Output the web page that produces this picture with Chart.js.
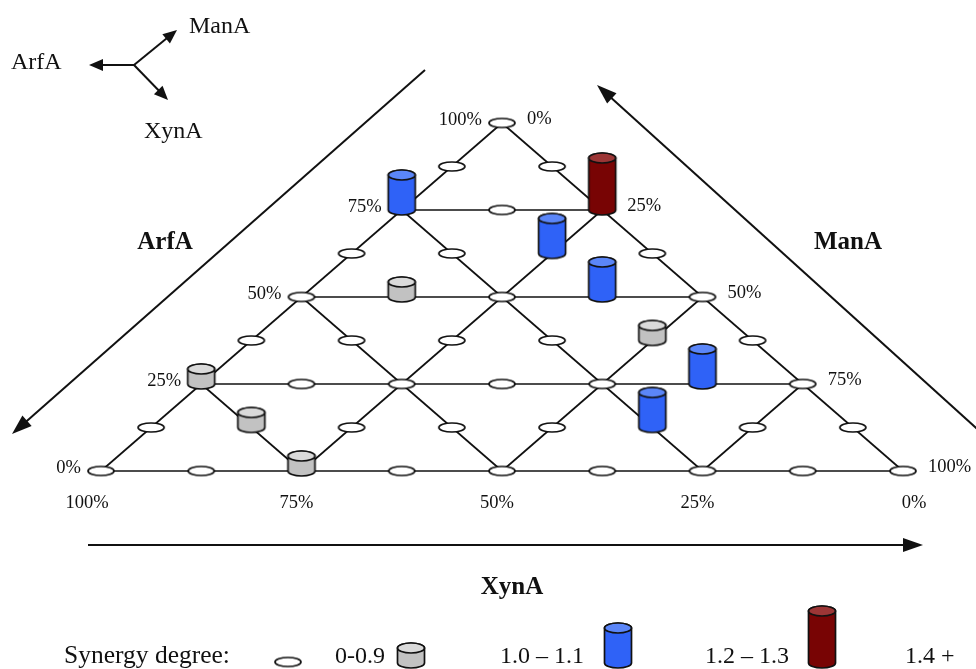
<!DOCTYPE html>
<html>
<head>
<meta charset="utf-8">
<script src="https://cdn.jsdelivr.net/npm/chart.js@4.4.0/dist/chart.umd.min.js"></script>
<style>
  html, body { margin: 0; padding: 0; background: #fff; }
</style>
</head>
<body>
<canvas id="myChart" width="976" height="669"></canvas>
<script>
// mixture design points, one row of the triangle per line (ArfA %, ManA %; XynA = rest)
const arfA = [
  0, 0, 0, 0, 0, 0, 0, 0, 0,
  12.5, 12.5, 12.5, 12.5, 12.5, 12.5, 12.5, 12.5,
  25, 25, 25, 25, 25, 25, 25,
  37.5, 37.5, 37.5, 37.5, 37.5, 37.5,
  50, 50, 50, 50, 50,
  62.5, 62.5, 62.5, 62.5,
  75, 75, 75,
  87.5, 87.5,
  100
];
const manA = [
  0, 12.5, 25, 37.5, 50, 62.5, 75, 87.5, 100,
  0, 12.5, 25, 37.5, 50, 62.5, 75, 87.5,
  0, 12.5, 25, 37.5, 50, 62.5, 75,
  0, 12.5, 25, 37.5, 50, 62.5,
  0, 12.5, 25, 37.5, 50,
  0, 12.5, 25, 37.5,
  0, 12.5, 25,
  0, 12.5,
  0
];
// synergy class: 0 = 0-0.9, 1 = 1.0-1.1, 2 = 1.2-1.3, 3 = 1.4+
const synergy = [
  0, 0, 1, 0, 0, 0, 0, 0, 0,
  0, 1, 0, 0, 0, 2, 0, 0,
  1, 0, 0, 0, 0, 2, 0,
  0, 0, 0, 0, 1, 0,
  0, 1, 0, 2, 0,
  0, 0, 2, 0,
  2, 0, 3,
  0, 0,
  0
];
const synergyLabels = ['0-0.9', '1.0 \u2013 1.1', '1.2 \u2013 1.3', '1.4 +'];
const gridLevels = [0, 25, 50, 75];
const tickLabels = ['0%', '25%', '50%', '75%', '100%'];

const serif = '"Liberation Serif", "Times New Roman", serif';

// ternary (ArfA, ManA) -> plane x/y
const tern = (a, m) => ({ x: m + a / 2, y: a });

function makeOval(rx, ry) {
  const c = document.createElement('canvas');
  c.width = 2 * rx + 4; c.height = 2 * ry + 4;
  const g = c.getContext('2d');
  g.beginPath();
  g.ellipse(c.width / 2, c.height / 2, rx, ry, 0, 0, Math.PI * 2);
  g.fillStyle = '#fff'; g.fill();
  g.lineWidth = 1.7; g.strokeStyle = '#111'; g.stroke();
  return c;
}

// cylinder with its bottom cap centred on the canvas centre
function makeCyl(h, body, top) {
  const rx = 13.5, ry = 5;
  const c = document.createElement('canvas');
  c.width = 32; c.height = 2 * (h - ry + 3);
  const g = c.getContext('2d');
  const cx = c.width / 2, yb = c.height / 2, yt = yb - h + 2 * ry;
  g.lineWidth = 1.7; g.strokeStyle = '#111';
  g.beginPath();
  g.moveTo(cx - rx, yt);
  g.lineTo(cx - rx, yb);
  g.ellipse(cx, yb, rx, ry, 0, Math.PI, 0, true);
  g.lineTo(cx + rx, yt);
  g.ellipse(cx, yt, rx, ry, 0, 0, Math.PI, true);
  g.closePath();
  g.fillStyle = body; g.fill(); g.stroke();
  g.beginPath();
  g.ellipse(cx, yt, rx, ry, 0, 0, Math.PI * 2);
  g.fillStyle = top; g.fill(); g.stroke();
  return c;
}

const markers = [
  makeOval(13, 4.5),
  makeCyl(25, '#c2c2c2', '#dadada'),
  makeCyl(45, '#2f62f7', '#5b86f8'),
  makeCyl(62, '#780404', '#9c3636')
];

// grid lines of the 25% lattice, one per level of each component
const gridSets = [];
gridLevels.forEach(L => {
  [[tern(L, 0), tern(L, 100 - L)],
   [tern(0, L), tern(100 - L, L)],
   [tern(0, 100 - L), tern(100 - L, 0)]].forEach(seg => {
    gridSets.push({
      data: seg, showLine: true, borderColor: '#111', borderWidth: 1.7,
      pointRadius: 0, order: 10, clip: false
    });
  });
});

const pointSets = synergyLabels.map((lab, k) => ({
  label: lab,
  data: arfA.map((a, i) => synergy[i] === k ? tern(a, manA[i]) : null).filter(p => p),
  pointStyle: markers[k], pointRadius: 10, order: k === 0 ? 2 : 1, clip: false
}));

function arrow(ctx, x1, y1, x2, y2, head, half, lw) {
  const a = Math.atan2(y2 - y1, x2 - x1), c = Math.cos(a), s = Math.sin(a);
  ctx.lineWidth = lw;
  ctx.beginPath();
  ctx.moveTo(x1, y1);
  ctx.lineTo(x2 - c * head * 0.8, y2 - s * head * 0.8);
  ctx.stroke();
  ctx.beginPath();
  ctx.moveTo(x2, y2);
  ctx.lineTo(x2 - head * c + half * s, y2 - head * s - half * c);
  ctx.lineTo(x2 - head * c - half * s, y2 - head * s + half * c);
  ctx.closePath();
  ctx.fill();
}

const decor = {
  id: 'decor',
  afterDraw(chart) {
    const ctx = chart.ctx, xs = chart.scales.x, ys = chart.scales.y;
    const px = (a, m) => { const p = tern(a, m); return { x: xs.getPixelForValue(p.x), y: ys.getPixelForValue(p.y) }; };
    ctx.save();
    ctx.fillStyle = '#111'; ctx.strokeStyle = '#111';
    ctx.textBaseline = 'alphabetic';

    // edge tick labels
    ctx.font = '18.5px ' + serif;
    tickLabels.forEach((t, i) => {
      const L = i * 25;
      let p = px(L, 0);               // left edge, ArfA
      ctx.textAlign = 'right'; ctx.fillText(t, p.x - 20, p.y + 2);
      p = px(100 - L, L);             // right edge, ManA
      ctx.textAlign = 'left'; ctx.fillText(t, p.x + 25, p.y + 1);
      p = px(0, 100 - L);             // base, XynA
      const dx = i === 4 ? -14 : (i === 0 ? 11 : -5);
      ctx.textAlign = 'center'; ctx.fillText(t, p.x + dx, p.y + 37);
    });

    // big axis arrows
    arrow(ctx, 425, 70, 12, 434, 20, 7, 2);
    arrow(ctx, 985, 436, 597, 85, 20, 7, 2);
    arrow(ctx, 88, 545, 923, 545, 20, 7, 2.2);

    ctx.font = 'bold 25px ' + serif; ctx.textAlign = 'center';
    ctx.fillText('ArfA', 165, 249);
    ctx.fillText('ManA', 848, 249);
    ctx.fillText('XynA', 512, 594);

    // compass
    arrow(ctx, 134, 65, 89, 65, 14, 6, 2);
    arrow(ctx, 134, 65, 177, 30, 14, 6, 2);
    arrow(ctx, 134, 65, 168, 100, 14, 6, 2);
    ctx.font = '24px ' + serif; ctx.textAlign = 'left';
    ctx.fillText('ArfA', 11, 69);
    ctx.fillText('ManA', 189, 33);
    ctx.fillText('XynA', 144, 138);

    // legend
    ctx.font = '25.5px ' + serif;
    ctx.fillText('Synergy degree:', 64, 663);
    ctx.font = '24px ' + serif;
    const symX = [288, 411, 618, 822], labX = [335, 500, 705, 905];
    synergyLabels.forEach((lab, k) => {
      const m = markers[k];
      const cy = k === 0 ? 662 : 663;
      ctx.drawImage(m, symX[k] - m.width / 2, cy - m.height / 2);
      ctx.fillText(lab, labX[k], 663);
    });
    ctx.restore();
  }
};

new Chart(document.getElementById('myChart').getContext('2d'), {
  type: 'scatter',
  data: { datasets: [...pointSets, ...gridSets] },
  options: {
    responsive: false,
    animation: false,
    devicePixelRatio: 1,
    layout: { padding: { left: 101, right: 73, top: 123, bottom: 198 } },
    scales: {
      x: { display: false, min: 0, max: 100 },
      y: { display: false, min: 0, max: 100 }
    },
    plugins: { legend: { display: false }, tooltip: { enabled: false } }
  },
  plugins: [decor]
});
</script>
</body>
</html>
